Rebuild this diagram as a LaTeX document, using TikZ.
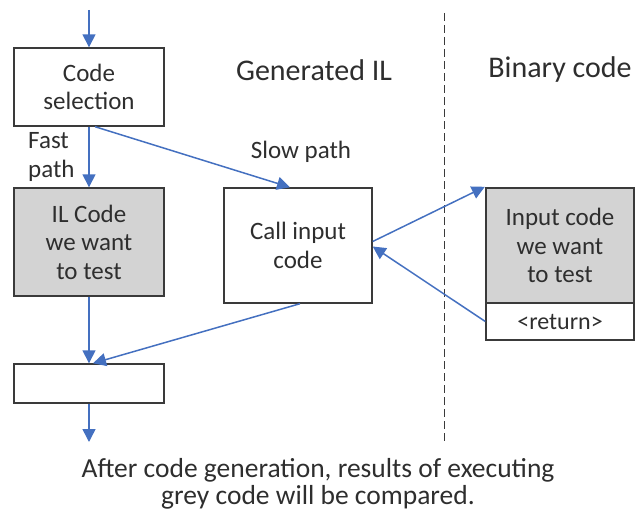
\documentclass[tikz,border=0pt]{standalone}
\usepackage{fontspec}
\setmainfont{Carlito}
\usetikzlibrary{positioning,calc,arrows.meta}
\definecolor{arrowblue}{HTML}{4470C0}
\definecolor{boxline}{HTML}{3A3A3A}
\definecolor{codegrey}{HTML}{D3D3D3}
\definecolor{txt}{HTML}{2E2E2E}

\begin{document}
\begin{tikzpicture}[x=1pt,y=-1pt,
    box/.style={draw=boxline, line width=1.4pt, align=center, text=txt, inner sep=0pt,
        font=\fontsize{25}{28.5}\selectfont},
    flow/.style={arrowblue, line width=1.5pt, -{Triangle[length=13pt,width=13pt]}},
    lbl/.style={text=txt, font=\fontsize{25}{28.5}\selectfont, inner sep=0pt}]
    \useasboundingbox (0,0) rectangle (637,511);

    \node[box, minimum width=150, minimum height=78] (sel) at (89,87) {Code\\selection};
    \node[box, fill=codegrey, minimum width=150, minimum height=108] (ilcode) at (89,242) {IL Code\\we want\\to test};
    \node[box, minimum width=148, minimum height=115] (call) at (298,245.5) {Call input\\code};
    \node[box, fill=codegrey, line width=2.4pt, minimum width=148, minimum height=115] (input) at (560,245.5) {Input code\\we want\\to test};
    \node[box, minimum width=148, minimum height=37] (ret) at (560,321.5) {\fontsize{24}{26}\selectfont<return>};
    \node[box, minimum width=150, minimum height=39] (merge) at (89,383.5) {};

    \node[lbl, align=left, anchor=west] (fast) at (28,157) {Fast\\path};
    \node[lbl] (slow) at (301,152) {Slow path};
    \node[lbl, font=\fontsize{30}{34}\selectfont] (genil) at (314,70) {Generated IL};
    \node[lbl, font=\fontsize{30}{34}\selectfont] (bincode) at (560,70) {Binary code};
    \node[lbl, align=center, font=\fontsize{27.5}{27}\selectfont] (note) at (318,484)
        {After code generation, results of executing\\grey code will be compared.};

    \coordinate (in) at (89,10);
    \coordinate (out) at (89,442);
    \draw[boxline, line width=1pt, dash pattern=on 8pt off 4pt] (444,13) -- (444,441);

    \draw[flow] (in) -- (sel.north);
    \draw[flow] (sel.south) -- (ilcode.north);
    \draw[flow] ([xshift=6]sel.south) -- ([xshift=-8]call.north);
    \draw[flow] ([yshift=4]call.east) -- (input.north west);
    \draw[flow] (ret.west) -- ([yshift=-1]call.east);
    \draw[flow] ([xshift=2]call.south) -- ([xshift=4]merge.north);
    \draw[flow] (ilcode.south) -- (merge.north);
    \draw[flow] (merge.south) -- (out);
\end{tikzpicture}
\end{document}
